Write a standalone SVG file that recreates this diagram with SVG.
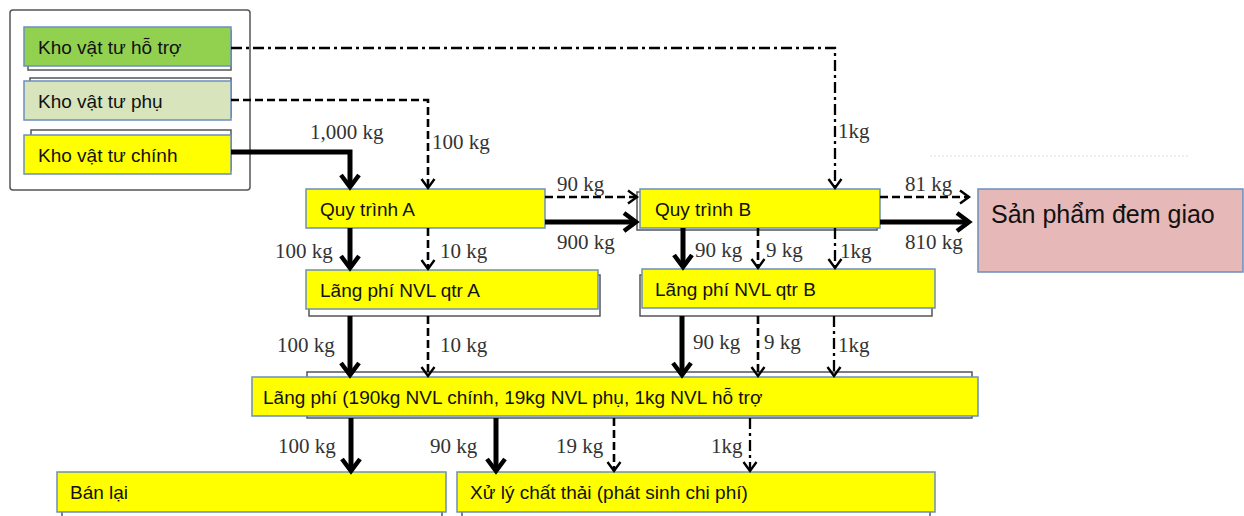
<svg xmlns="http://www.w3.org/2000/svg" width="1244" height="516" viewBox="0 0 1244 516">
<defs>
<marker id="ahThick" markerUnits="userSpaceOnUse" markerWidth="26" markerHeight="26" refX="15" refY="11" orient="auto">
<path d="M3,2 L15,11 L3,20" fill="none" stroke="#000" stroke-width="4.5" stroke-linejoin="miter"/>
</marker>
<marker id="ahThin" markerUnits="userSpaceOnUse" markerWidth="18" markerHeight="18" refX="11" refY="8" orient="auto">
<path d="M2,1.5 L11,8 L2,14.5" fill="none" stroke="#000" stroke-width="2.4"/>
</marker>
</defs>
<style>
.shadow{fill:#fff;stroke:#555;stroke-width:1.5}
.box{stroke:#6c8ebf;stroke-width:1.5}
.yel{fill:#ffff00}
.lbl{font-family:"Liberation Sans",Arial,sans-serif;font-size:19px;fill:#111}
.num{font-family:"Liberation Serif","Times New Roman",serif;font-size:21px;fill:#333}
.thick{stroke:#000;stroke-width:5;fill:none;marker-end:url(#ahThick)}
.dash{stroke:#000;stroke-width:2.6;fill:none;stroke-dasharray:8,4;marker-end:url(#ahThin)}
.dashdot{stroke:#000;stroke-width:2.3;fill:none;stroke-dasharray:11,4,3,4;marker-end:url(#ahThin)}
</style>
<rect width="1244" height="516" fill="#fff"/>
<line x1="930" y1="156" x2="1190" y2="156" stroke="#ddd" stroke-width="1" stroke-dasharray="2,2"/>

<g id="store-group">
<rect x="10" y="10" width="240" height="180" rx="3" fill="none" stroke="#555" stroke-width="1.5"/>
</g>
<g id="kho-ho-tro">
<rect class="shadow" x="28" y="31" width="203" height="39"/>
<rect class="box" x="24" y="27" width="207" height="39" fill="#92d050"/>
<text class="lbl" x="38" y="54">Kho vật tư hỗ trợ</text>
</g>
<g id="kho-phu">
<rect class="shadow" x="30" y="78" width="201" height="39"/>
<rect class="box" x="24" y="81" width="207" height="39" fill="#d7e4bc"/>
<text class="lbl" x="38" y="108">Kho vật tư phụ</text>
</g>
<g id="kho-chinh">
<rect class="shadow" x="31" y="130" width="200" height="40"/>
<rect class="box yel" x="24" y="135" width="207" height="39"/>
<text class="lbl" x="38" y="162">Kho vật tư chính</text>
</g>
<g id="quy-trinh-a">
<rect class="box yel" x="306" y="189" width="239" height="39"/>
<text class="lbl" x="320" y="216">Quy trình A</text>
</g>
<g id="quy-trinh-b">
<rect class="shadow" x="637" y="192" width="240" height="38"/>
<rect class="box yel" x="640" y="189" width="240" height="39"/>
<text class="lbl" x="655" y="216">Quy trình B</text>
</g>
<g id="san-pham">
<rect class="box" x="978" y="189" width="265" height="83" fill="#e6b8b7"/>
<text class="lbl" x="991" y="223" style="font-size:25px">Sản phẩm đem giao</text>
</g>
<g id="lang-phi-a">
<rect class="shadow" x="309" y="275" width="291" height="41"/>
<rect class="box yel" x="306" y="270" width="292" height="39"/>
<text class="lbl" x="320" y="297">Lãng phí NVL qtr A</text>
</g>
<g id="lang-phi-b">
<rect class="shadow" x="640" y="275" width="292" height="41"/>
<rect class="box yel" x="642" y="269" width="293" height="39"/>
<text class="lbl" x="655" y="296">Lãng phí NVL qtr B</text>
</g>
<g id="lang-phi-tong">
<rect class="shadow" x="307" y="372" width="665" height="46"/>
<rect class="box yel" x="252" y="377" width="726" height="39"/>
<text class="lbl" x="263" y="404">Lãng phí (190kg NVL chính, 19kg NVL phụ, 1kg NVL hỗ trợ</text>
</g>
<g id="ban-lai">
<rect class="shadow" x="62" y="478" width="380" height="44"/>
<rect class="box yel" x="57" y="472" width="389" height="40"/>
<text class="lbl" x="70" y="499">Bán lại</text>
</g>
<g id="xu-ly">
<rect class="shadow" x="462" y="478" width="468" height="44"/>
<rect class="box yel" x="457" y="472" width="478" height="40"/>
<text class="lbl" x="470" y="499">Xử lý chất thải (phát sinh chi phí)</text>
</g>

<g id="connectors">
<path class="dashdot" d="M231,48 H835 V188"/>
<path class="dash" d="M231,100 H428 V188"/>
<path class="thick" d="M231,152 H350 V187"/>
<path class="dash" d="M545,197 H637"/>
<path class="thick" d="M545,222 H636"/>
<path class="thick" d="M350,228 V268"/>
<path class="dash" d="M428,228 V269"/>
<path class="thick" d="M683,228 V267"/>
<path class="dash" d="M758,228 V268"/>
<path class="dashdot" d="M835,228 V268"/>
<path class="dash" d="M880,197 H969"/>
<path class="thick" d="M880,222 H969"/>
<path class="thick" d="M350,316 V375"/>
<path class="dash" d="M428,316 V376"/>
<path class="thick" d="M682,316 V375"/>
<path class="dash" d="M758,316 V376"/>
<path class="dashdot" d="M834,316 V376"/>
<path class="thick" d="M351,418 V471"/>
<path class="thick" d="M496,418 V471"/>
<path class="dash" d="M614,418 V471"/>
<path class="dashdot" d="M750,418 V471"/>
</g>

<g id="labels">
<text class="num" x="310" y="139">1,000 kg</text>
<text class="num" x="432" y="149">100 kg</text>
<text class="num" x="838" y="138">1kg</text>
<text class="num" x="557" y="191">90 kg</text>
<text class="num" x="557" y="249">900 kg</text>
<text class="num" x="905" y="191">81 kg</text>
<text class="num" x="905" y="249">810 kg</text>
<text class="num" x="275" y="258">100 kg</text>
<text class="num" x="440" y="258">10 kg</text>
<text class="num" x="695" y="257">90 kg</text>
<text class="num" x="766" y="257">9 kg</text>
<text class="num" x="840" y="258">1kg</text>
<text class="num" x="277" y="352">100 kg</text>
<text class="num" x="440" y="352">10 kg</text>
<text class="num" x="693" y="349">90 kg</text>
<text class="num" x="764" y="349">9 kg</text>
<text class="num" x="838" y="352">1kg</text>
<text class="num" x="278" y="453">100 kg</text>
<text class="num" x="430" y="453">90 kg</text>
<text class="num" x="556" y="453">19 kg</text>
<text class="num" x="711" y="453">1kg</text>
</g>
</svg>
